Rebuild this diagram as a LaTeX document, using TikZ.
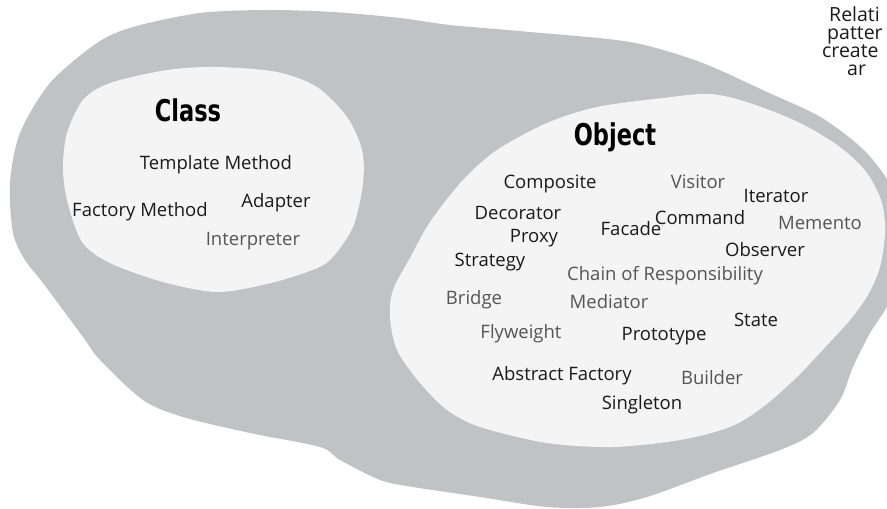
\documentclass[tikz,border=0pt]{standalone}
\usepackage{fontspec}
\setmainfont{Open Sans}
\newfontfamily\titlefont[FakeStretch=0.75]{DejaVu Sans}
\usepackage{xcolor}
\definecolor{blobgray}{HTML}{C1C2C4}
\definecolor{blobwhite}{HTML}{F4F4F4}
\definecolor{patdark}{HTML}{1A1A1A}
\definecolor{patlight}{HTML}{555555}
\tikzset{
  patname/.style={font=\fontsize{18.5}{21}\selectfont, text=patdark, inner sep=0pt},
  patgrey/.style={patname, text=patlight},
  grouptitle/.style={font=\titlefont\bfseries\fontsize{30}{36}\selectfont, text=black, inner sep=0pt},
  sidenote/.style={font=\fontsize{19.5}{18}\selectfont, text=patdark, inner sep=0pt,
    align=left, anchor=north west}
}

\begin{document}
\begin{tikzpicture}[x=1pt, y=-1pt]
  \clip (0,0) rectangle (887,509);

  % --- outer region ---
  \fill[blobgray] plot[smooth cycle] coordinates {
    (97,43) (133,27) (200,13) (267,10) (333,12) (400,18) (450,25) (530,32)
    (630,42) (700,62) (767,92) (817,115) (850,138) (873,160) (895,195)
    (900,250) (890,300) (870,333) (853,367) (840,400) (813,433) (780,450)
    (713,473) (647,497) (600,507) (547,507) (480,497) (413,487) (380,480)
    (340,460) (320,447) (250,433) (183,417) (143,400) (100,360) (83,337)
    (43,283) (25,260) (13,233) (10,183) (20,133) (50,83)};

  % --- class scope ---
  \fill[blobwhite] plot[smooth cycle] coordinates {
    (110,83) (167,70) (217,67) (277,72) (317,87) (347,117) (362,150)
    (363,183) (353,227) (330,260) (307,272) (267,284) (217,292) (163,282)
    (110,263) (82,242) (67,200) (63,167) (67,133) (83,100)};
  \node[grouptitle] (classtitle) at (188,110) {Class};
  \node[patname] (tmplmethod) at (216,165) {Template Method};
  \node[patname] (factmethod) at (140,212) {Factory Method};
  \node[patname] (adapterc) at (276,203) {Adapter};
  \node[patgrey] (interp) at (253,241) {Interpreter};

  % --- object scope ---
  \fill[blobwhite] plot[smooth cycle] coordinates {
    (390,317) (393,290) (410,258) (430,222) (463,180) (497,150) (547,123)
    (597,107) (663,98) (710,94) (750,103) (800,123) (840,147) (867,173)
    (882,203) (885,233) (880,267) (868,295) (850,320) (830,342) (797,377)
    (763,407) (730,427) (680,440) (613,447) (547,443) (480,427) (447,410)
    (420,383) (397,350)};
  \node[grouptitle] (objtitle) at (615,137) {Object};
  \node[patname] (composite) at (550,184) {Composite};
  \node[patgrey] (visitor) at (698,182) {Visitor};
  \node[patname] (iterator) at (776,196) {Iterator};
  \node[patname] (decorator) at (518,213) {Decorator};
  \node[patname] (command) at (700,218) {Command};
  \node[patgrey] (memento) at (820,223) {Memento};
  \node[patname] (facade) at (631,229) {Facade};
  \node[patname] (proxy) at (534,238) {Proxy};
  \node[patname] (observer) at (765,250) {Observer};
  \node[patname] (strategy) at (490,262) {Strategy};
  \node[patgrey] (chainresp) at (665,276) {Chain of Responsibility};
  \node[patgrey] (bridge) at (474,300) {Bridge};
  \node[patgrey] (mediator) at (609,302) {Mediator};
  \node[patname] (state) at (756,320) {State};
  \node[patgrey] (flyweight) at (521,334) {Flyweight};
  \node[patname] (prototype) at (664,336) {Prototype};
  \node[patname] (absfactory) at (562,376) {Abstract Factory};
  \node[patgrey] (builder) at (712,378) {Builder};
  \node[patname] (singleton) at (642,405) {Singleton};

  % --- note at the edge ---
  \node[sidenote] (relnote) at (822,6)
    {\hspace*{7pt}Relati\\\hspace*{5pt}patter\\create\\\hspace*{25pt}ar};
\end{tikzpicture}
\end{document}
